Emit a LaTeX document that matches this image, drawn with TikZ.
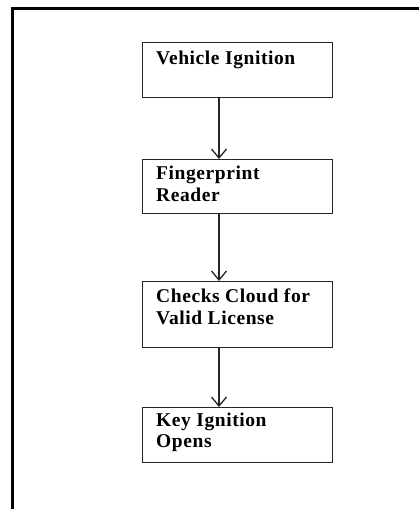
\documentclass[tikz,border=0pt]{standalone}
\usepackage{fontspec}
\setmainfont{Liberation Serif}
\usetikzlibrary{arrows.meta,calc}
% two-line label whose baseline is that of its first line
\newcommand\twolines[2]{\vtop{\hbox{#1}\hbox{#2}}}
\begin{document}
\begin{tikzpicture}[x=1pt,y=-1pt,
  stagebox/.style={draw=black!85, line width=1.3pt, rectangle, inner sep=0pt, anchor=north west},
  stagetext/.style={anchor=base west, inner sep=0pt,
    font=\fontsize{19.5}{21.5}\selectfont\bfseries\addfontfeature{LetterSpace=3}},
  flow/.style={draw=black!85, line width=1.3pt, -{Straight Barb[length=9pt,width=15pt,line width=1.3pt]}},
  frame/.style={draw=black, line width=2.7pt}]
  \useasboundingbox (0,0) rectangle (419,509);

  % outer frame (top and left edges)
  \draw[frame] (419,8.7) -- (12.2,8.7) -- (12.2,509);

  % stage boxes
  \node[stagebox, minimum width=190pt, minimum height=55pt] (b1) at (142,42) {};
  \node[stagebox, minimum width=190pt, minimum height=54pt] (b2) at (142,159) {};
  \node[stagebox, minimum width=190pt, minimum height=66pt] (b3) at (142,281) {};
  \node[stagebox, minimum width=190pt, minimum height=55pt] (b4) at (142,407) {};

  % stage labels
  \node[stagetext] (t1) at ($(b1.north west)+(14,22)$) {Vehicle Ignition};
  \node[stagetext] (t2) at ($(b2.north west)+(14,20.5)$) {\twolines{Fingerprint}{Reader}};
  \node[stagetext] (t3) at ($(b3.north west)+(14,21.5)$) {\twolines{Checks Cloud for}{Valid License}};
  \node[stagetext] (t4) at ($(b4.north west)+(14,19)$) {\twolines{Key Ignition}{Opens}};

  % flow connectors
  \coordinate (axis) at (219,0);
  \draw[flow] (b1.south -| axis) -- (b2.north -| axis);
  \draw[flow] (b2.south -| axis) -- (b3.north -| axis);
  \draw[flow] (b3.south -| axis) -- (b4.north -| axis);
\end{tikzpicture}
\end{document}
